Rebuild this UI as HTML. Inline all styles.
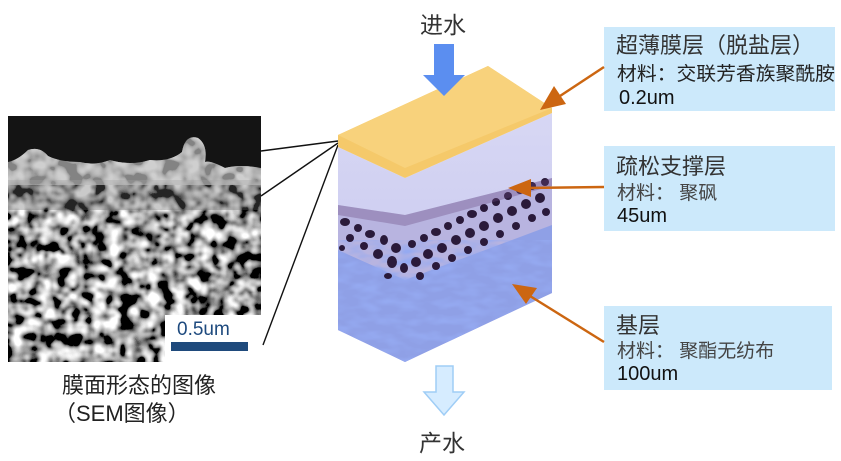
<!DOCTYPE html>
<html><head><meta charset="utf-8"><style>
html,body{margin:0;padding:0;background:#fff;}
svg{display:block}
text{font-family:"Liberation Sans","Noto Sans CJK SC",sans-serif;}
</style></head><body>
<svg width="841" height="461" viewBox="0 0 841 461" xmlns="http://www.w3.org/2000/svg">
<defs>
<filter id="sem" x="0" y="0" width="100%" height="100%">
<feTurbulence type="fractalNoise" baseFrequency="0.075" numOctaves="2" seed="3"/>
<feColorMatrix type="matrix" values="0.33 0.33 0.33 0 0  0.33 0.33 0.33 0 0  0.33 0.33 0.33 0 0  0 0 0 0 1"/>
<feComponentTransfer><feFuncR type="linear" slope="5" intercept="-2.1"/><feFuncG type="linear" slope="5" intercept="-2.1"/><feFuncB type="linear" slope="5" intercept="-2.1"/></feComponentTransfer>
</filter>
<filter id="blu" x="0" y="0" width="100%" height="100%">
<feTurbulence type="fractalNoise" baseFrequency="0.05 0.12" numOctaves="2" seed="7"/>
<feColorMatrix type="matrix" values="0 0 0 0 0.3  0 0 0 0 0.4  0 0 0 0 0.88  -2.4 0 0 0 1.5"/>
</filter>
<clipPath id="blk"><polygon points="338,147 405,178 552,113 552,293 405,362 338,330"/></clipPath>
<clipPath id="semc"><rect x="8" y="116" width="253" height="246"/></clipPath>
<linearGradient id="lav" x1="0" y1="0" x2="0" y2="1"><stop offset="0" stop-color="#d8d8f4"/><stop offset="1" stop-color="#c4c4ee"/></linearGradient>
</defs>

<!-- SEM image -->
<g clip-path="url(#semc)">
<rect x="8" y="116" width="253" height="246" fill="#333"/>
<rect x="8" y="116" width="253" height="246" filter="url(#sem)"/>
<rect x="8" y="180" width="253" height="30" fill="#666" opacity="0.35"/>
<path d="M8,116 H261 V168 Q240,164 225,168 Q210,160 205,162 Q208,145 198,138 Q185,134 182,152 Q170,162 150,160 Q130,166 110,160 Q95,166 80,162 Q60,162 48,156 Q40,146 28,150 Q18,160 8,162 Z" fill="#141414"/>
<path d="M8,162 Q18,160 28,150 Q40,146 48,156 Q60,162 80,162 Q95,166 110,160 Q130,166 150,160 Q170,162 182,152 Q185,134 198,138 Q208,145 205,162 Q210,160 225,168 Q240,164 261,168 V185 H8Z" fill="#bbb" opacity="0.7"/>
<rect x="165" y="315" width="96" height="47" fill="#fff"/>
<text x="177" y="335" font-size="19" fill="#1e4a7e">0.5um</text>
<rect x="171" y="342" width="77" height="9" fill="#1f4a7c"/>
</g>
<text x="62" y="393" font-size="22" fill="#222">膜面形态的图像</text>
<text x="54" y="421" font-size="22" fill="#222">（SEM图像）</text>

<!-- connector lines -->
<g stroke="#111" stroke-width="1.4" fill="none">
<line x1="261" y1="151" x2="338" y2="141"/>
<line x1="261" y1="196" x2="338" y2="143"/>
<line x1="263" y1="345" x2="338" y2="145"/>
</g>

<!-- Block -->
<g clip-path="url(#blk)">
<rect x="338" y="100" width="214" height="270" fill="url(#lav)"/>
<polygon points="338,205 405,215 552,178 552,235 405,285 338,258" fill="#b8b4e0"/>
<polygon points="338,250 405,280 552,225 552,300 405,370 338,340" fill="#8fa0e6"/>
<rect x="338" y="240" width="214" height="130" filter="url(#blu)"/>
<g fill="#2a1a3a">
<ellipse cx="345" cy="222" rx="5" ry="4"/><ellipse cx="358" cy="228" rx="4" ry="4"/><ellipse cx="370" cy="234" rx="5" ry="4"/><ellipse cx="384" cy="240" rx="4" ry="5"/><ellipse cx="396" cy="248" rx="5" ry="5"/><ellipse cx="350" cy="238" rx="4" ry="4"/><ellipse cx="364" cy="246" rx="4" ry="4"/><ellipse cx="378" cy="254" rx="5" ry="5"/><ellipse cx="392" cy="262" rx="5" ry="6"/><ellipse cx="404" cy="268" rx="4" ry="5"/><ellipse cx="342" cy="248" rx="3" ry="3"/><ellipse cx="388" cy="276" rx="4" ry="3"/>
<ellipse cx="412" cy="244" rx="4" ry="4"/><ellipse cx="424" cy="238" rx="4" ry="4"/><ellipse cx="436" cy="232" rx="5" ry="4"/><ellipse cx="448" cy="226" rx="4" ry="4"/><ellipse cx="460" cy="220" rx="4" ry="4"/><ellipse cx="472" cy="214" rx="5" ry="4"/><ellipse cx="484" cy="208" rx="4" ry="4"/><ellipse cx="496" cy="202" rx="4" ry="4"/><ellipse cx="508" cy="196" rx="4" ry="4"/><ellipse cx="520" cy="190" rx="4" ry="4"/><ellipse cx="532" cy="186" rx="4" ry="4"/><ellipse cx="545" cy="182" rx="4" ry="4"/>
<ellipse cx="416" cy="262" rx="5" ry="5"/><ellipse cx="428" cy="254" rx="5" ry="5"/><ellipse cx="442" cy="248" rx="5" ry="5"/><ellipse cx="456" cy="240" rx="5" ry="5"/><ellipse cx="470" cy="233" rx="5" ry="5"/><ellipse cx="484" cy="226" rx="5" ry="5"/><ellipse cx="498" cy="218" rx="5" ry="5"/><ellipse cx="512" cy="211" rx="5" ry="5"/><ellipse cx="526" cy="204" rx="5" ry="5"/><ellipse cx="540" cy="198" rx="5" ry="5"/>
<ellipse cx="420" cy="276" rx="4" ry="4"/><ellipse cx="436" cy="266" rx="4" ry="4"/><ellipse cx="452" cy="258" rx="4" ry="4"/><ellipse cx="468" cy="250" rx="4" ry="4"/><ellipse cx="484" cy="242" rx="4" ry="4"/><ellipse cx="500" cy="234" rx="4" ry="4"/><ellipse cx="516" cy="226" rx="4" ry="4"/><ellipse cx="532" cy="218" rx="4" ry="4"/><ellipse cx="546" cy="212" rx="4" ry="4"/>
</g>
<polygon points="338,205 405,215 552,178 552,186 405,226 338,215" fill="#6a4a80" opacity="0.35"/>
</g>
<!-- top face -->
<polygon points="338,135 488,66 552,108 552,113 405,178 338,147" fill="#f5c96a"/>
<polygon points="338,135 488,66 552,108 405,168" fill="#f8d27c"/>

<!-- arrows in/out -->
<text x="420" y="33" font-size="23" fill="#333">进水</text>
<polygon points="434,44 454,44 454,75 465,75 444,96 423,75 434,75" fill="#5b8ef0"/>
<polygon points="436,366 453,366 453,392 464,392 444,415 424,392 436,392" fill="#d6ecff" stroke="#9fcdf6" stroke-width="1.5"/>
<text x="419" y="451" font-size="23" fill="#333">产水</text>

<!-- label boxes -->
<rect x="604" y="27" width="231" height="84" fill="#cce9fb"/>
<text x="616" y="53" font-size="22" fill="#333">超薄膜层（脱盐层）</text>
<text x="617" y="80" font-size="19" fill="#222" textLength="218" lengthAdjust="spacingAndGlyphs">材料：交联芳香族聚酰胺</text>
<text x="619" y="104" font-size="20" fill="#111">0.2um</text>

<rect x="604" y="146" width="231" height="85" fill="#cce9fb"/>
<text x="616" y="174" font-size="22" fill="#333">疏松支撑层</text>
<text x="617" y="199" font-size="19" fill="#444">材料：  聚砜</text>
<text x="617" y="222" font-size="20" fill="#111">45um</text>

<rect x="604" y="306" width="228" height="84" fill="#cce9fb"/>
<text x="616" y="333" font-size="22" fill="#333">基层</text>
<text x="617" y="357" font-size="19" fill="#444">材料：  聚酯无纺布</text>
<text x="617" y="380" font-size="20" fill="#111">100um</text>

<!-- orange pointers -->
<g stroke="#cc6611" stroke-width="2.5" fill="#cc6611">
<line x1="604" y1="67" x2="560" y2="96"/>
<line x1="604" y1="187" x2="525" y2="188"/>
<line x1="604" y1="342" x2="530" y2="296"/>
</g>
<g fill="#cc6611">
<polygon points="540,110 554,86 566,104"/>
<polygon points="508,188 531,179 531,197"/>
<polygon points="512,284 537,288 526,304"/>
</g>
</svg>
</body></html>
